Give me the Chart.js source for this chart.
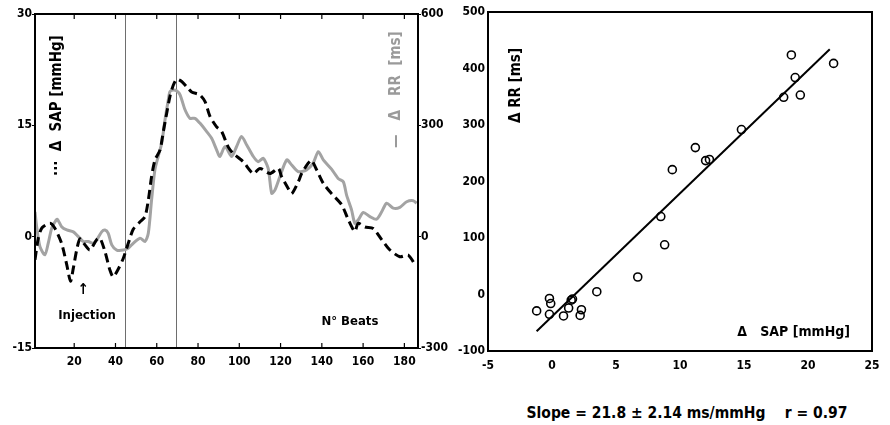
<!DOCTYPE html>
<html>
<head>
<meta charset="utf-8">
<script src="https://cdn.jsdelivr.net/npm/chart.js@4.4.1/dist/chart.umd.min.js"></script>
<style>
  body { margin:0; background:#fff; width:890px; height:425px; overflow:hidden; position:relative;
         font-family:"DejaVu Sans Condensed","DejaVu Sans",sans-serif; }
  #wrapL { position:absolute; left:0; top:0; width:460px; height:380px; }
  #wrapR { position:absolute; left:440px; top:0; width:450px; height:380px; }
  #caption { position:absolute; left:440px; width:494px; top:404px; text-align:center;
             font-weight:bold; font-size:15.5px; color:#000; white-space:pre; }
</style>
</head>
<body>
<div id="wrapL"><canvas id="timeChart"></canvas></div>
<div id="wrapR"><canvas id="scatChart"></canvas></div>
<div id="caption">Slope = 21.8 ± 2.14 ms/mmHg    r = 0.97</div>
<script>
// ---- left panel: beat-by-beat response -------------------------------------
const beatTicks = [20, 40, 60, 80, 100, 120, 140, 160, 180];
const markerBeats = [44.6, 69.3];

// delta SAP [mmHg] (dashed black, left axis)
const sapBeats = [1, 2.6, 4.4, 8.3, 10.7, 13.9, 16.4, 18.2, 19.6, 21.2, 22.8, 25.2, 27.6, 30.9, 32.5,
  34.9, 37.3, 38.9, 41.3, 43.8, 46.2, 48.6, 51.9, 54.3, 55.9, 57.5, 59.1, 61.6, 63.2, 64.8,
  66.4, 68, 69.7, 72.1, 74.5, 76.9, 80.9, 83.4, 85.8, 89, 91.4, 94.6, 97.1, 101.9, 106.8,
  110, 114.9, 118.9, 120.5, 123.7, 125.4, 128.6, 130.2, 133.4, 135, 137.5, 140.7, 144.7, 149.6, 152.8,
  156, 157.6, 160.9, 164.9, 169, 173, 177.8, 181.9, 185.6];
const sapValues = [-3.1, -0.2, 1.2, 1.8, 1.1, -0.9, -3.8, -6.0, -4.2, -1.8, -0.3, -1.1, -1.8, -0.4, -0.2,
  -2.0, -4.5, -5.4, -4.4, -2.9, -0.9, 1.0, 2.0, 2.7, 4.9, 8.1, 10.3, 11.7, 14.2, 16.6,
  18.9, 20.4, 21.2, 20.9, 20.2, 19.5, 19.1, 18.2, 16.2, 14.8, 14.2, 12.1, 11.2, 10.1, 8.5,
  9.2, 8.5, 9.2, 8.1, 6.5, 5.8, 7.4, 8.5, 9.9, 10.3, 9.0, 7.2, 5.8, 4.3, 2.3,
  0.7, 1.8, 1.3, 1.1, -0.4, -1.8, -2.7, -2.5, -4.0];

// delta RR [ms] (solid grey, right axis)
const rrBeats = [1, 1.8, 3.4, 5.8, 7.4, 9.1, 10.7, 11.8, 13.9, 16.4, 19.6, 22, 24.4, 26.8, 29.2,
  30.9, 33.3, 34.9, 36.5, 38.2, 40.6, 43.8, 46.2, 48.6, 51.9, 54.3, 55.9, 57.5, 59.1, 60.7,
  62.4, 64, 65.6, 66.4, 68, 69.6, 71.3, 73.7, 76.1, 78.5, 80.9, 84.2, 86.6, 89, 90.6,
  93.1, 96.3, 98.7, 101.1, 103.6, 106.8, 109.2, 111.6, 114, 115.7, 117.3, 119.7, 123, 125.4,
  128.6, 132.6, 135.8, 138.3, 140.7, 144.7, 147.9, 150.4, 152, 154.4, 156, 157.6, 160.1, 163.3,
  166.5, 169, 171.4, 174.6, 177.8, 181.1, 184.3, 185.9];
const rrValues = [67, 27, -27, -49, -18, 23, 40, 47, 27, 18, 13, 0, -13, -13, -18,
  -9, 13, 18, 9, -22, -36, -36, -31, -18, -4, -13, 9, 99, 180, 216,
  252, 315, 369, 391, 395, 393, 382, 342, 319, 319, 306, 283, 265, 234, 216,
  243, 216, 243, 270, 247, 216, 202, 211, 184, 117, 126, 162, 207, 193,
  175, 180, 198, 229, 207, 182, 157, 148, 112, 72, 36, 45, 65, 54,
  47, 67, 90, 77, 79, 94, 97, 90];

// ---- right panel: scatter of the peak responses ----------------------------
const scatSap = [9.4, 11.2, 12.0, 12.3, 14.8, 18.1, 18.7, 19.0, 19.4, 22.0, 8.5, 8.8, 6.7, 3.5,
  1.5, 1.3, 2.3, 2.2, 0.9, -0.2, -0.2, -0.1, -1.2, 1.6];
const scatRR = [221, 260, 237, 239, 292, 349, 424, 384, 353, 409, 138, 88, 31, 5,
  -10, -24, -27, -37, -38, -35, -7, -16, -29, -8];
const fitSap = [-1.2, 21.7];
const fitRR = [-65, 434];

const FONT = '"DejaVu Sans Condensed", "DejaVu Sans", sans-serif';
const tickFont = { family: FONT, size: 12, weight: 'bold' };

function pairs(xs, ys) { return xs.map((x, i) => ({ x: x, y: ys[i] })); }

//=============================================================================
// extra drawing for the left panel: frame, inward ticks, markers, texts
//=============================================================================
const leftDecor = {
  id: 'leftDecor',
  beforeDatasetsDraw(chart) {
    const { ctx, chartArea: a, scales } = chart;
    ctx.save();
    ctx.strokeStyle = '#6e6e6e';
    ctx.lineWidth = 1;
    markerBeats.forEach((b) => {
      const x = Math.round(scales.x.getPixelForValue(b)) + 0.5;
      ctx.beginPath(); ctx.moveTo(x, a.top); ctx.lineTo(x, a.bottom); ctx.stroke();
    });
    ctx.restore();
  },
  afterDraw(chart) {
    const { ctx, chartArea: a, scales } = chart;
    ctx.save();
    // frame
    ctx.strokeStyle = '#000';
    ctx.lineWidth = 2;
    ctx.strokeRect(a.left, a.top, a.right - a.left, a.bottom - a.top);
    // inward ticks top and bottom
    ctx.lineWidth = 1.2;
    beatTicks.forEach((b) => {
      const x = scales.x.getPixelForValue(b);
      ctx.beginPath(); ctx.moveTo(x, a.bottom); ctx.lineTo(x, a.bottom - 5); ctx.stroke();
      ctx.beginPath(); ctx.moveTo(x, a.top); ctx.lineTo(x, a.top + 5); ctx.stroke();
    });
    // annotations
    ctx.fillStyle = '#000';
    ctx.font = 'bold 13px ' + FONT;
    ctx.textAlign = 'center';
    ctx.textBaseline = 'middle';
    ctx.fillText('Injection', scales.x.getPixelForValue(26.2), scales.y.getPixelForValue(-10.7));
    ctx.fillText('N° Beats', scales.x.getPixelForValue(153.6), scales.y.getPixelForValue(-11.5));
    ctx.font = 'bold 15px ' + FONT;
    ctx.fillText('↑', scales.x.getPixelForValue(24.3), scales.y.getPixelForValue(-7.2));
    // rotated axis titles inside the frame
    ctx.font = 'bold 15px ' + FONT;
    ctx.textAlign = 'left';
    ctx.save();
    ctx.translate(a.left + 22, a.top + 162);
    ctx.rotate(-Math.PI / 2);
    ctx.fillText('···  Δ  SAP [mmHg]', 0, 0);
    ctx.restore();
    ctx.save();
    ctx.fillStyle = '#9a9a9a';
    ctx.translate(a.right - 22, a.top + 134);
    ctx.rotate(-Math.PI / 2);
    ctx.fillText('—   Δ   RR  [ms]', 0, 0);
    ctx.restore();
    ctx.restore();
  }
};

//=============================================================================
// extra drawing for the right panel: frame and axis titles
//=============================================================================
const rightDecor = {
  id: 'rightDecor',
  afterDraw(chart) {
    const { ctx, chartArea: a } = chart;
    ctx.save();
    ctx.strokeStyle = '#000';
    ctx.lineWidth = 2;
    ctx.strokeRect(a.left, a.top, a.right - a.left, a.bottom - a.top);
    ctx.fillStyle = '#000';
    ctx.font = 'bold 14px ' + FONT;
    ctx.textBaseline = 'middle';
    ctx.textAlign = 'right';
    ctx.fillText('Δ   SAP [mmHg]', a.right - 22, a.bottom - 19);
    ctx.font = 'bold 15px ' + FONT;
    ctx.textAlign = 'left';
    ctx.translate(a.left + 28, a.top + 111);
    ctx.rotate(-Math.PI / 2);
    ctx.fillText('Δ RR [ms]', 0, 0);
    ctx.restore();
  }
};

function showTimeChart() {
  let ctx = document.getElementById('timeChart');
  let config = {
    type: 'line',
    data: {
      datasets: [
        {
          label: 'RR', yAxisID: 'y2', data: pairs(rrBeats, rrValues),
          borderColor: '#a3a3a3', borderWidth: 3, pointRadius: 0, tension: 0.25, order: 2
        },
        {
          label: 'SAP', yAxisID: 'y', data: pairs(sapBeats, sapValues),
          borderColor: '#000', borderWidth: 3, borderDash: [9, 5], pointRadius: 0, tension: 0.25, order: 1
        }
      ]
    },
    options: {
      responsive: true,
      maintainAspectRatio: false,
      animation: false,
      layout: { padding: { top: 14, right: 0, bottom: 0, left: 0 } },
      plugins: { legend: { display: false }, tooltip: { enabled: false } },
      scales: {
        x: {
          type: 'linear', min: 1, max: 186.6,
          afterBuildTicks: (s) => { s.ticks = beatTicks.map((v) => ({ value: v })); },
          afterFit: (s) => { s.height = 32; },
          grid: { display: false, drawTicks: false }, border: { display: false },
          ticks: { font: tickFont, color: '#000', padding: 7, maxRotation: 0 }
        },
        y: {
          position: 'left', min: -15, max: 30,
          afterFit: (s) => { s.width = 35; },
          grid: { drawOnChartArea: false, tickLength: 3, color: '#000' }, border: { display: false },
          ticks: { stepSize: 15, font: tickFont, color: '#000', padding: 0 }
        },
        y2: {
          position: 'right', min: -300, max: 600,
          afterFit: (s) => { s.width = 42; },
          grid: { drawOnChartArea: false, tickLength: 3, color: '#000' }, border: { display: false },
          ticks: { stepSize: 300, font: tickFont, color: '#000', padding: 0 }
        }
      }
    },
    plugins: [leftDecor]
  };
  return new Chart(ctx, config);
}

function showScatChart() {
  let ctx = document.getElementById('scatChart');
  let config = {
    type: 'scatter',
    data: {
      datasets: [
        {
          label: 'beats', data: pairs(scatSap, scatRR),
          pointStyle: 'circle', pointRadius: 4, borderColor: '#000', borderWidth: 1.6,
          backgroundColor: 'rgba(0,0,0,0)'
        },
        {
          label: 'fit', type: 'line', data: pairs(fitSap, fitRR), showLine: true,
          borderColor: '#000', borderWidth: 2, pointRadius: 0
        }
      ]
    },
    options: {
      responsive: true,
      maintainAspectRatio: false,
      animation: false,
      layout: { padding: { top: 12, right: 18, bottom: 0, left: 0 } },
      plugins: { legend: { display: false }, tooltip: { enabled: false } },
      scales: {
        x: {
          type: 'linear', min: -5, max: 25,
          afterFit: (s) => { s.height = 29; },
          grid: { display: false, drawTicks: false }, border: { display: false },
          ticks: { stepSize: 5, font: tickFont, color: '#000', padding: 8, maxRotation: 0 }
        },
        y: {
          min: -100, max: 500,
          afterFit: (s) => { s.width = 48; },
          grid: { display: false, drawTicks: false }, border: { display: false },
          ticks: { stepSize: 100, font: tickFont, color: '#000', padding: 3 }
        }
      }
    },
    plugins: [rightDecor]
  };
  return new Chart(ctx, config);
}

showTimeChart();
showScatChart();
</script>
</body>
</html>
